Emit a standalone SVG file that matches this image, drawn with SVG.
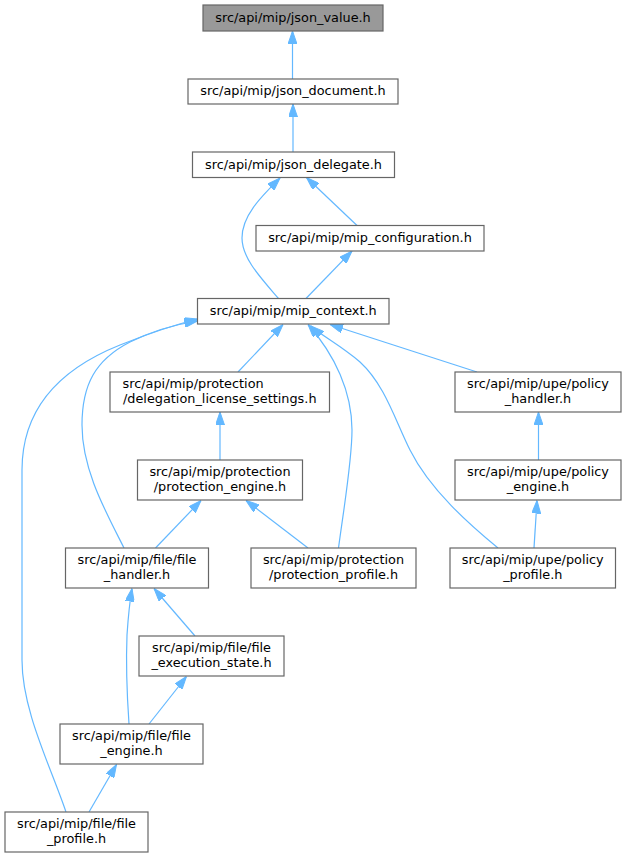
<svg xmlns="http://www.w3.org/2000/svg" width="625" height="857" viewBox="0 0 625 857">
<style>
.n rect{fill:#ffffff;stroke:#666666;stroke-width:1.2}
.n.root rect{fill:#999999}
.n text{font-family:"DejaVu Sans",sans-serif;font-size:12.85px;fill:#000000;text-anchor:middle}
.n text.s{text-anchor:start}
.e path{fill:none;stroke:#63b8ff;stroke-width:1.2;marker-end:url(#ah)}
</style>
<defs>
<marker id="ah" viewBox="0 0 13 9" refX="13" refY="4.5" markerWidth="13" markerHeight="9" markerUnits="userSpaceOnUse" orient="auto">
<path d="M0,0 L13,4.5 L0,9 z" fill="#63b8ff" stroke="#63b8ff" stroke-width="1"/>
</marker>
</defs>
<rect x="0" y="0" width="625" height="857" fill="#ffffff"/>
<g class="e" id="edges">
<path d="M292.5,79 L292.5,31"/>
<path d="M293,152 L293,104"/>
<path d="M357,225.5 L306.5,177.5"/>
<path d="M278.5,298.5 C260,277 242,258 242,238 C242,215 262,196 280,178"/>
<path d="M306,298.5 L352,251"/>
<path d="M124,548 C106,512 82,470 82,425 C82,385 95,360 130,342 C150,332 172,325 197.5,321"/>
<path d="M66,812 C50,765 22,710 22,660 L22,470 C22,400 70,365 120,345 C145,335 170,326 197.5,319"/>
<path d="M238,372 L283,324.5"/>
<path d="M338.5,548 C345,500 352,460 352,430 C352,392 335,355 308,324.5"/>
<path d="M498,548 C470,525 430,490 410,450 C395,420 385,385 360,362 C340,345 322,336 311,326"/>
<path d="M477,372 L330,324.5"/>
<path d="M220,460 L220,412"/>
<path d="M155.5,548 L201,500.5"/>
<path d="M308,548 L246,500.5"/>
<path d="M538.5,460 L538.5,412"/>
<path d="M534,548 L537,500.5"/>
<path d="M195,636 L154,588.5"/>
<path d="M129,724 C127,695 126,660 127,635 C128,620 130,600 132,588.5"/>
<path d="M149,724 L186.5,676.5"/>
<path d="M89,812 L116.5,764.5"/>
</g>
<g class="n root" id="json_value"><rect x="203" y="5" width="180" height="26"/><text x="293" y="21.5">src/api/mip/json_value.h</text></g>
<g class="n" id="json_document"><rect x="188" y="79" width="210" height="25"/><text x="293" y="95">src/api/mip/json_document.h</text></g>
<g class="n" id="json_delegate"><rect x="192.5" y="152" width="202" height="25.5"/><text x="293.5" y="168.5">src/api/mip/json_delegate.h</text></g>
<g class="n" id="mip_configuration"><rect x="256" y="225.5" width="228" height="25.5"/><text x="370" y="242">src/api/mip/mip_configuration.h</text></g>
<g class="n" id="mip_context"><rect x="197.5" y="298.5" width="191.5" height="25.5"/><text x="293.25" y="315">src/api/mip/mip_context.h</text></g>
<g class="n" id="delegation_license_settings"><rect x="110" y="372" width="219.5" height="40"/><text class="s" x="122.5" y="388">src/api/mip/protection</text><text x="219.75" y="403">/delegation_license_settings.h</text></g>
<g class="n" id="policy_handler"><rect x="455" y="372" width="166" height="40"/><text x="538" y="388">src/api/mip/upe/policy</text><text x="538" y="403">_handler.h</text></g>
<g class="n" id="protection_engine"><rect x="137.5" y="460" width="165" height="40"/><text x="220" y="476">src/api/mip/protection</text><text x="220" y="491">/protection_engine.h</text></g>
<g class="n" id="policy_engine"><rect x="455" y="460" width="166" height="40"/><text x="538" y="476">src/api/mip/upe/policy</text><text x="538" y="491">_engine.h</text></g>
<g class="n" id="file_handler"><rect x="65.5" y="548" width="143" height="40"/><text x="137" y="564">src/api/mip/file/file</text><text x="137" y="579">_handler.h</text></g>
<g class="n" id="protection_profile"><rect x="251" y="548" width="165" height="40"/><text x="333.5" y="564">src/api/mip/protection</text><text x="333.5" y="579">/protection_profile.h</text></g>
<g class="n" id="policy_profile"><rect x="450" y="548" width="165.5" height="40"/><text x="532.75" y="564">src/api/mip/upe/policy</text><text x="532.75" y="579">_profile.h</text></g>
<g class="n" id="file_execution_state"><rect x="139" y="636" width="145" height="40"/><text x="211.5" y="652">src/api/mip/file/file</text><text x="211.5" y="667">_execution_state.h</text></g>
<g class="n" id="file_engine"><rect x="60" y="724" width="143" height="40"/><text x="131.5" y="740">src/api/mip/file/file</text><text x="131.5" y="755">_engine.h</text></g>
<g class="n" id="file_profile"><rect x="5" y="812" width="143" height="40"/><text x="76.5" y="828">src/api/mip/file/file</text><text x="76.5" y="843">_profile.h</text></g>
</svg>
